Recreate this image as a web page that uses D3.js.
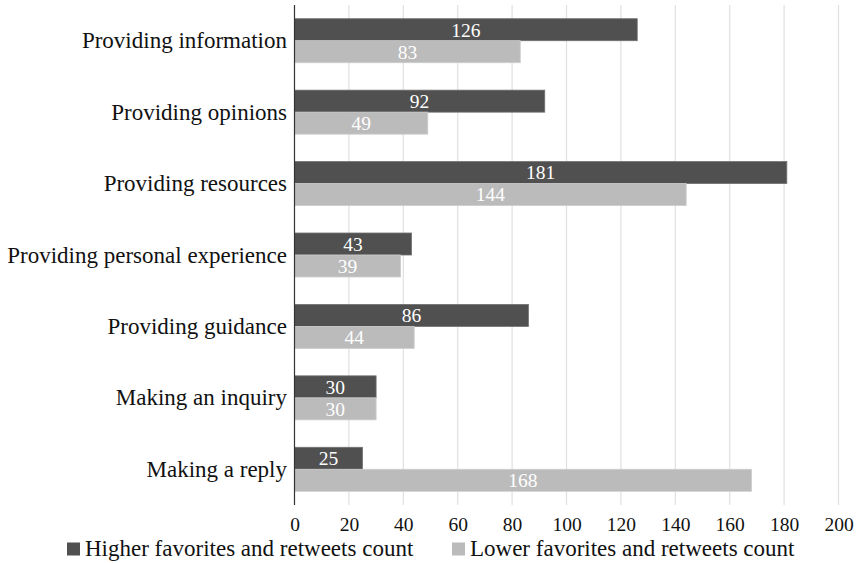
<!DOCTYPE html>
<html><head><meta charset="utf-8">
<script src="https://cdn.jsdelivr.net/npm/d3@7"></script>
<style>
body{margin:0;background:#fff}
svg{display:block}
svg text{font-family:'Liberation Serif','Tinos','Times New Roman',serif !important}
</style>
</head><body>
<svg id="c" width="858" height="563"></svg>
<script>
const categories = ["Providing information","Providing opinions","Providing resources","Providing personal experience","Providing guidance","Making an inquiry","Making a reply"];
const seriesNames = ["Higher favorites and retweets count","Lower favorites and retweets count"];
const higher = [126,92,181,43,86,30,25];
const lower = [83,49,144,39,44,30,168];
const xTicks = [0,20,40,60,80,100,120,140,160,180,200];
const colors = ["#505050","#bbbbbb"];
const FONT = "Liberation Serif";

const svg = d3.select("#c");
const x = d3.scaleLinear().domain([0,200]).range([294.5,838.5]);
const y = d3.scaleBand().domain(categories).range([5,505]).paddingInner(0.384).paddingOuter(0.192);
const sub = d3.scaleBand().domain([0,1]).range([0,y.bandwidth()]);

function serif(sel){ return sel.attr("font-family",FONT).style("font-family","'Liberation Serif'"); }

// gridlines
svg.append("g").selectAll("line").data(xTicks.slice(1)).join("line")
  .attr("x1",d=>x(d)).attr("x2",d=>x(d)).attr("y1",5).attr("y2",505)
  .attr("stroke","#e0e0e0").attr("stroke-width",1.2);

const data = [];
categories.forEach((c,i)=>{data.push({c,s:0,v:higher[i]});data.push({c,s:1,v:lower[i]});});

const g = svg.append("g");
g.selectAll("rect").data(data).join("rect")
  .attr("x",x(0)).attr("y",d=>y(d.c)+sub(d.s))
  .attr("width",d=>x(d.v)-x(0)).attr("height",sub.bandwidth())
  .attr("fill",d=>colors[d.s])
  .attr("stroke",d=>d.s===0?"#707070":"#cccccc").attr("stroke-width",0.8);

serif(g.selectAll("text").data(data).join("text"))
  .attr("x",d=>(x(0)+x(d.v))/2).attr("y",d=>y(d.c)+sub(d.s)+sub.bandwidth()/2)
  .attr("dy","0.35em").attr("text-anchor","middle")
  .attr("fill","#fff").attr("font-size",19.5).text(d=>d.v);

// y axis line
svg.append("line").attr("x1",x(0)).attr("x2",x(0)).attr("y1",5).attr("y2",505)
  .attr("stroke","#333").attr("stroke-width",1.2);

// category labels
serif(svg.append("g").selectAll("text").data(categories).join("text"))
  .attr("x",287).attr("y",d=>y(d)+y.bandwidth()/2).attr("dy","0.33em")
  .attr("text-anchor","end").attr("font-size",23).attr("fill","#111").text(d=>d);

// x tick labels
const xa = svg.append("g").attr("transform","translate(0,512)")
  .call(d3.axisBottom(x).tickValues(xTicks).tickSize(0).tickPadding(0));
xa.attr("font-family",FONT).attr("font-size",19.5);
xa.select(".domain").remove();
serif(xa.selectAll("text")).attr("font-size",19.5).attr("fill","#111").attr("dy","0.95em");

// legend
const leg = svg.append("g");
const lx = [67,452];
seriesNames.forEach((n,i)=>{
  leg.append("rect").attr("x",lx[i]).attr("y",542.5).attr("width",13).attr("height",13).attr("fill",colors[i]);
  serif(leg.append("text")).attr("x",lx[i]+18).attr("y",556).attr("font-size",23).attr("fill","#111").text(n);
});
</script>
</body></html>
